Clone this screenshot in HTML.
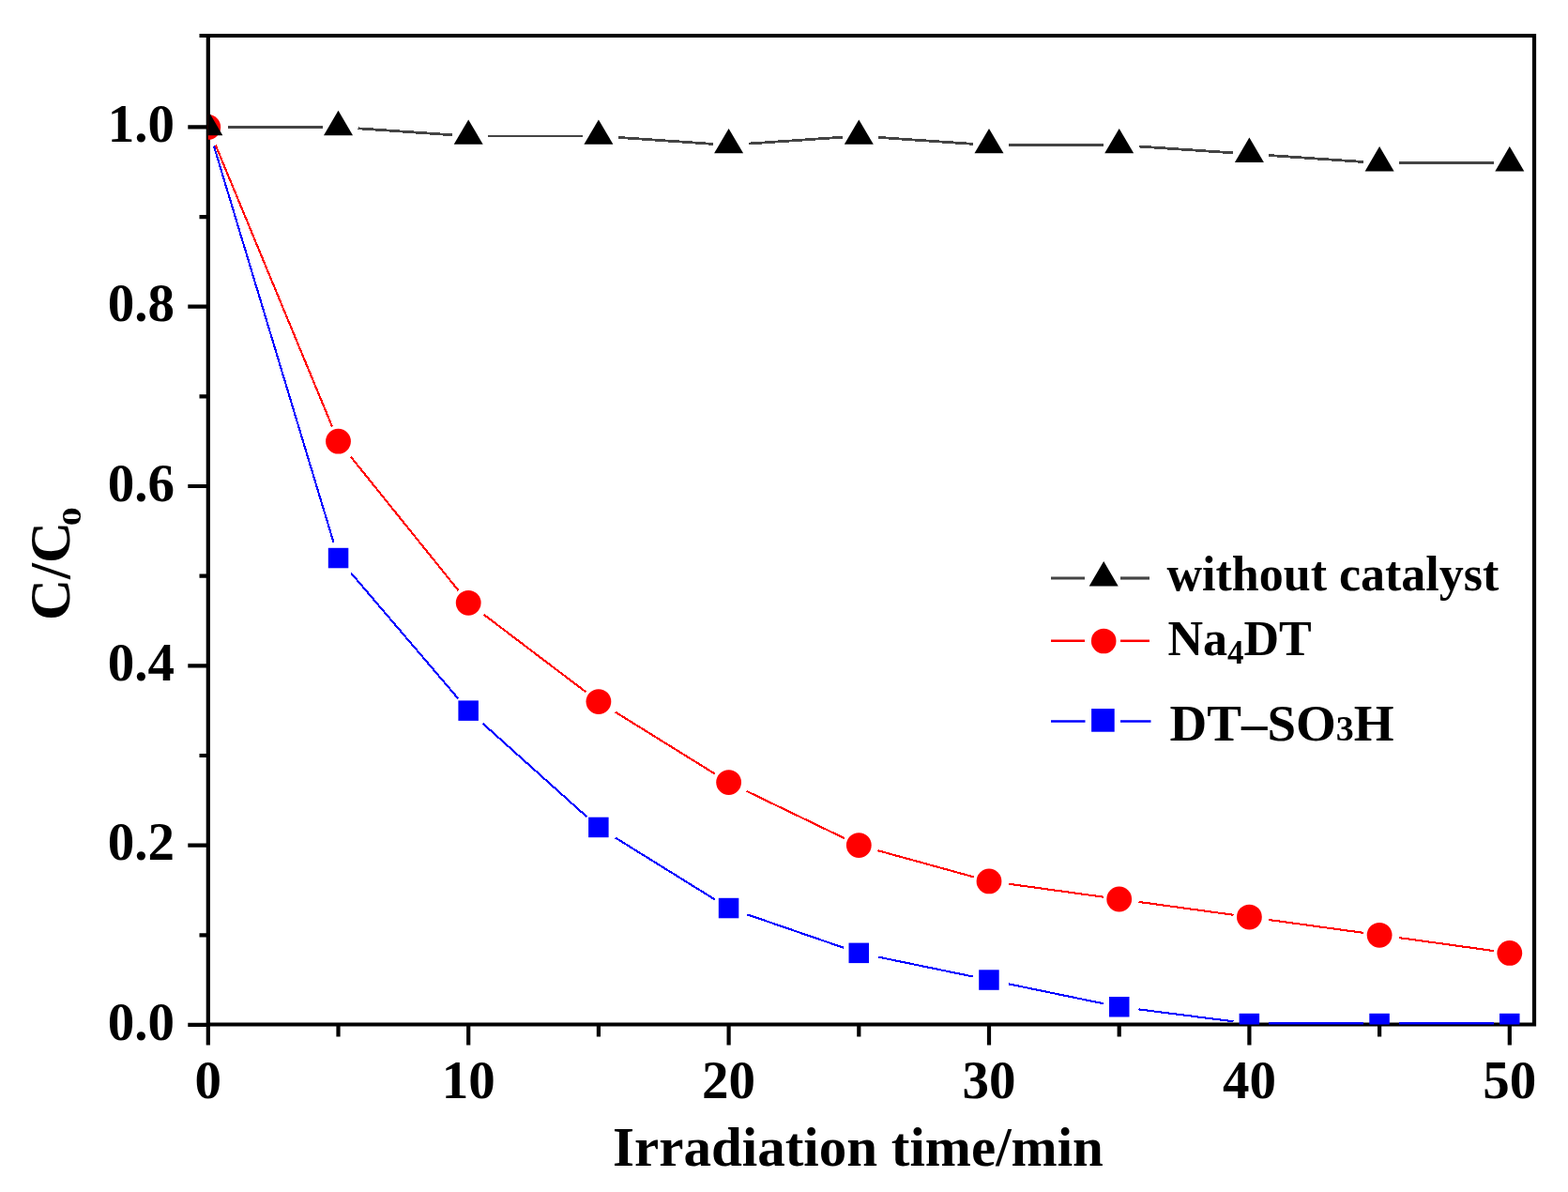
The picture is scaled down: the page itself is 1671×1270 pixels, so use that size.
<!DOCTYPE html>
<html><head><meta charset="utf-8"><title>C/C0 vs Irradiation time</title>
<style>html,body{margin:0;padding:0;background:#fff;width:1671px;height:1270px;overflow:hidden}svg{display:block}</style>
</head><body>
<svg width="1671" height="1270" viewBox="0 0 1671 1270" font-family="'Liberation Serif', 'Times New Roman', serif" font-weight="bold" fill="#000">
<defs><clipPath id="clip"><rect x="221.8" y="38.0" width="1413.2" height="1053.5"/></clipPath></defs>
<rect width="1671" height="1270" fill="#fff"/>
<path d="M221.8,38.0 H1635.0 V1091.5 H221.8 Z" fill="none" stroke="#000" stroke-width="4.2" stroke-linejoin="miter"/>
<path d="M200.3,1091.9 H221.8 M200.3,900.6 H221.8 M200.3,709.3 H221.8 M200.3,518.0 H221.8 M200.3,326.7 H221.8 M200.3,135.4 H221.8 M212.5,996.3 H221.8 M212.5,805.0 H221.8 M212.5,613.7 H221.8 M212.5,422.4 H221.8 M212.5,231.1 H221.8 M212.5,38.0 H221.8 M221.8,1091.5 V1113.5 M499.2,1091.5 V1113.5 M776.6,1091.5 V1113.5 M1054.0,1091.5 V1113.5 M1331.4,1091.5 V1113.5 M1608.8,1091.5 V1113.5 M360.5,1091.5 V1104.5 M637.9,1091.5 V1104.5 M915.3,1091.5 V1104.5 M1192.7,1091.5 V1104.5 M1470.1,1091.5 V1104.5" stroke="#000" stroke-width="4.2" fill="none"/>
<g font-size="57"><text x="186" y="1107.6" text-anchor="end">0.0</text><text x="186" y="916.3" text-anchor="end">0.2</text><text x="186" y="725.0" text-anchor="end">0.4</text><text x="186" y="533.7" text-anchor="end">0.6</text><text x="186" y="342.4" text-anchor="end">0.8</text><text x="186" y="151.1" text-anchor="end">1.0</text><text x="221.8" y="1170" text-anchor="middle">0</text><text x="499.2" y="1170" text-anchor="middle">10</text><text x="776.6" y="1170" text-anchor="middle">20</text><text x="1054.0" y="1170" text-anchor="middle">30</text><text x="1331.4" y="1170" text-anchor="middle">40</text><text x="1608.8" y="1170" text-anchor="middle">50</text></g>
<text x="914.5" y="1241.6" font-size="59" text-anchor="middle">Irradiation time/min</text>
<g transform="rotate(-90)"><text x="-661" y="73.6" font-size="61">C/C</text><text transform="translate(-560.3,86) scale(1.4,1)" font-size="28.5">0</text></g>
<g stroke="#444" stroke-width="3.2"><line x1="1120" y1="616" x2="1156" y2="616"/><line x1="1194" y1="616" x2="1225" y2="616"/></g>
<g fill="#000"><polygon points="1176.2,598.0 1191.7,624.5 1160.7,624.5"/></g>
<g stroke="#ff0000" stroke-width="2.5"><line x1="1120" y1="682.8" x2="1156" y2="682.8"/><line x1="1194" y1="682.8" x2="1225" y2="682.8"/></g>
<g fill="#ff0000"><circle cx="1176.2" cy="683.0" r="13.3"/></g>
<g stroke="#0000ff" stroke-width="2.5"><line x1="1120" y1="768.4" x2="1156.5" y2="768.4"/><line x1="1194" y1="768.4" x2="1226.5" y2="768.4"/></g>
<g fill="#0000ff"><rect x="1163.1" y="755.1" width="24.6" height="24.6"/></g>
<text x="1243.5" y="629.1" font-size="52">without catalyst</text>
<text x="1244.5" y="697.6" font-size="52">Na<tspan font-size="35" dy="9">4</tspan><tspan dy="-9">DT</tspan></text>
<text x="1246.5" y="789.4" font-size="55">DT–SO<tspan font-size="38">3</tspan>H</text>
<g clip-path="url(#clip)">
<g stroke="#444" stroke-width="2.8" fill="none" shape-rendering="crispEdges"><line x1="242.8" y1="135.4" x2="343.5" y2="135.4"/><line x1="381.5" y1="136.8" x2="482.2" y2="143.8"/><line x1="520.2" y1="145.0" x2="620.9" y2="145.0"/><line x1="658.9" y1="146.4" x2="759.6" y2="153.4"/><line x1="797.6" y1="153.1" x2="898.3" y2="146.1"/><line x1="936.3" y1="146.4" x2="1037.0" y2="153.4"/><line x1="1075.0" y1="154.5" x2="1175.7" y2="154.5"/><line x1="1213.7" y1="156.0" x2="1314.4" y2="162.9"/><line x1="1352.4" y1="165.5" x2="1453.1" y2="172.5"/><line x1="1491.1" y1="173.7" x2="1591.8" y2="173.7"/></g>
<g stroke="#ff0000" stroke-width="2.1" fill="none" shape-rendering="crispEdges"><line x1="229.8" y1="154.8" x2="354.0" y2="454.5"/><line x1="373.7" y1="486.5" x2="488.5" y2="629.1"/><line x1="515.9" y1="655.0" x2="624.4" y2="737.3"/><line x1="655.7" y1="758.6" x2="762.2" y2="824.7"/><line x1="795.5" y1="842.8" x2="900.0" y2="893.2"/><line x1="935.5" y1="906.2" x2="1037.6" y2="934.3"/><line x1="1074.8" y1="941.7" x2="1175.9" y2="955.7"/><line x1="1213.5" y1="960.9" x2="1314.6" y2="974.8"/><line x1="1352.2" y1="980.0" x2="1453.3" y2="993.9"/><line x1="1490.9" y1="999.1" x2="1592.0" y2="1013.1"/></g>
<g stroke="#0000ff" stroke-width="2.1" fill="none" shape-rendering="crispEdges"><line x1="227.9" y1="155.5" x2="355.6" y2="578.2"/><line x1="374.1" y1="610.5" x2="488.2" y2="744.2"/><line x1="514.8" y1="771.1" x2="625.2" y2="870.1"/><line x1="655.7" y1="892.5" x2="762.2" y2="958.6"/><line x1="796.5" y1="974.4" x2="899.2" y2="1009.8"/><line x1="935.9" y1="1019.6" x2="1037.4" y2="1040.6"/><line x1="1074.6" y1="1048.3" x2="1176.1" y2="1069.3"/><line x1="1213.5" y1="1075.4" x2="1314.5" y2="1088.3"/><line x1="1352.4" y1="1090.5" x2="1453.1" y2="1090.5"/><line x1="1491.1" y1="1090.5" x2="1591.8" y2="1090.5"/></g>
<g fill="#0000ff"><rect x="349.8" y="583.8" width="21.5" height="21.5"/><rect x="488.4" y="746.4" width="21.5" height="21.5"/><rect x="627.1" y="870.7" width="21.5" height="21.5"/><rect x="765.8" y="956.8" width="21.5" height="21.5"/><rect x="904.5" y="1004.6" width="21.5" height="21.5"/><rect x="1043.2" y="1033.3" width="21.5" height="21.5"/><rect x="1182.0" y="1062.0" width="21.5" height="21.5"/><rect x="1320.6" y="1079.8" width="21.5" height="21.5"/><rect x="1459.3" y="1079.8" width="21.5" height="21.5"/><rect x="1598.0" y="1079.8" width="21.5" height="21.5"/></g>
<g fill="#ff0000"><circle cx="221.8" cy="135.4" r="13.4"/><circle cx="360.5" cy="470.2" r="13.4"/><circle cx="499.2" cy="642.3" r="13.4"/><circle cx="637.9" cy="747.6" r="13.4"/><circle cx="776.6" cy="833.6" r="13.4"/><circle cx="915.3" cy="900.6" r="13.4"/><circle cx="1054.0" cy="938.9" r="13.4"/><circle cx="1192.7" cy="958.0" r="13.4"/><circle cx="1331.4" cy="977.1" r="13.4"/><circle cx="1470.1" cy="996.3" r="13.4"/><circle cx="1608.8" cy="1015.4" r="13.4"/></g>
<g fill="#000"><polygon points="221.8,117.8 237.3,144.2 206.3,144.2"/><polygon points="360.5,117.8 376.0,144.2 345.0,144.2"/><polygon points="499.2,127.4 514.7,153.8 483.7,153.8"/><polygon points="637.9,127.4 653.4,153.8 622.4,153.8"/><polygon points="776.6,136.9 792.1,163.3 761.1,163.3"/><polygon points="915.3,127.4 930.8,153.8 899.8,153.8"/><polygon points="1054.0,136.9 1069.5,163.3 1038.5,163.3"/><polygon points="1192.7,136.9 1208.2,163.3 1177.2,163.3"/><polygon points="1331.4,146.5 1346.9,172.9 1315.9,172.9"/><polygon points="1470.1,156.1 1485.6,182.5 1454.6,182.5"/><polygon points="1608.8,156.1 1624.3,182.5 1593.3,182.5"/></g>
</g>
</svg>
</body></html>
